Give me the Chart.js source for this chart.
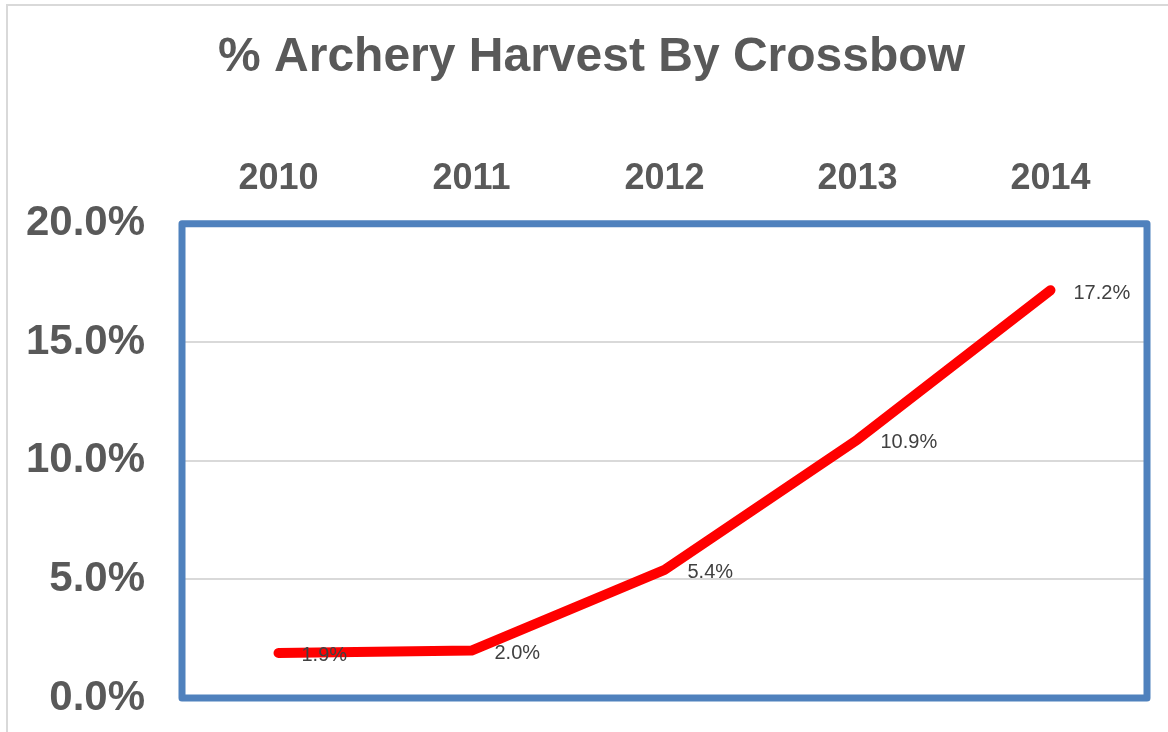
<!DOCTYPE html>
<html>
<head>
<meta charset="utf-8">
<script src="https://cdn.jsdelivr.net/npm/chart.js@4/dist/chart.umd.min.js"></script>
<style>
    html, body { margin: 0; padding: 0; background: #fff; overflow: hidden; }
    #wrap { position: relative; width: 1168px; height: 732px; }
</style>
</head>
<body>
<div id="wrap"><canvas id="chart" width="1168" height="732"></canvas></div>
<script>
const years = ['2010', '2011', '2012', '2013', '2014'];
const crossbowShare = [1.9, 2.0, 5.4, 10.9, 17.2];
const yTicks = [0, 5, 10, 15, 20];

const textGrey = '#595959';

// gray frame on the left/top like the original chart box
const framePlugin = {
    id: 'frame',
    beforeDraw: (chart) => {
        const ctx = chart.ctx;
        ctx.save();
        ctx.strokeStyle = '#d9d9d9';
        ctx.lineWidth = 2;
        ctx.beginPath();
        ctx.moveTo(7, 732);
        ctx.lineTo(7, 5);
        ctx.lineTo(1168, 5);
        ctx.stroke();
        ctx.restore();
    },
    // title sits a bit right of the canvas centre in the original
    afterLayout: (chart) => {
        chart.titleBlock.left += 18;
        chart.titleBlock.right += 18;
    }
}

// blue border round the plot area
const plotBorder = {
    id: 'plotBorder',
    beforeDatasetsDraw: (chart) => {
        const a = chart.chartArea;
        const ctx = chart.ctx;
        ctx.save();
        ctx.strokeStyle = '#4f81bd';
        ctx.lineWidth = 7;
        ctx.lineJoin = 'round';
        ctx.strokeRect(a.left, a.top, a.right - a.left, a.bottom - a.top);
        ctx.restore();
    }
}

// value labels to the right of each point
const valueLabels = {
    id: 'valueLabels',
    afterDatasetsDraw: (chart) => {
        const ctx = chart.ctx;
        const meta = chart.getDatasetMeta(0);
        ctx.save();
        ctx.font = '20px "Liberation Sans", Arial, sans-serif';
        ctx.fillStyle = '#404040';
        ctx.textAlign = 'left';
        ctx.textBaseline = 'middle';
        meta.data.forEach((pt, i) => {
            ctx.fillText(crossbowShare[i].toFixed(1) + '%', pt.x + 23, pt.y + 3);
        })
        ctx.restore();
    }
}

new Chart(document.getElementById('chart'), {
    type: 'line',
    data: {
        labels: years,
        datasets: [{
            label: '% Archery Harvest By Crossbow',
            data: crossbowShare,
            borderColor: '#ff0000',
            borderWidth: 10,
            borderCapStyle: 'round',
            borderJoinStyle: 'round',
            pointRadius: 0,
            tension: 0,
            fill: false
        }]
    },
    options: {
        responsive: false,
        animation: false,
        layout: { padding: { left: 0, right: 21, top: 0, bottom: 34 } },
        plugins: {
            legend: { display: false },
            tooltip: { enabled: false },
            title: {
                display: true,
                text: '% Archery Harvest By Crossbow',
                color: textGrey,
                font: { family: '"Liberation Sans", Arial, sans-serif', size: 48, weight: 'bold' },
                padding: { top: 29, bottom: 48 }
            }
        },
        scales: {
            x: {
                position: 'top',
                offset: true,
                grid: { display: false, drawTicks: false },
                border: { display: false },
                ticks: {
                    color: textGrey,
                    font: { family: '"Liberation Sans", Arial, sans-serif', size: 36, weight: 'bold' },
                    padding: 23
                }
            },
            y: {
                min: 0,
                max: 20,
                afterBuildTicks: (scale) => {
                    scale.ticks = yTicks.map(v => ({ value: v }));
                },
                afterFit: (scale) => {
                    scale.width = 182;
                    // tick padding otherwise pushes the plot up from the bottom
                    scale.paddingTop = 0;
                    scale.paddingBottom = 0;
                },
                grid: { color: '#d9d9d9', lineWidth: 2, drawTicks: false },
                border: { display: false },
                ticks: {
                    color: textGrey,
                    font: { family: '"Liberation Sans", Arial, sans-serif', size: 42, weight: 'bold' },
                    padding: 37,
                    callback: (v) => v.toFixed(1) + '%'
                }
            }
        }
    },
    plugins: [framePlugin, plotBorder, valueLabels]
});
</script>
</body>
</html>
